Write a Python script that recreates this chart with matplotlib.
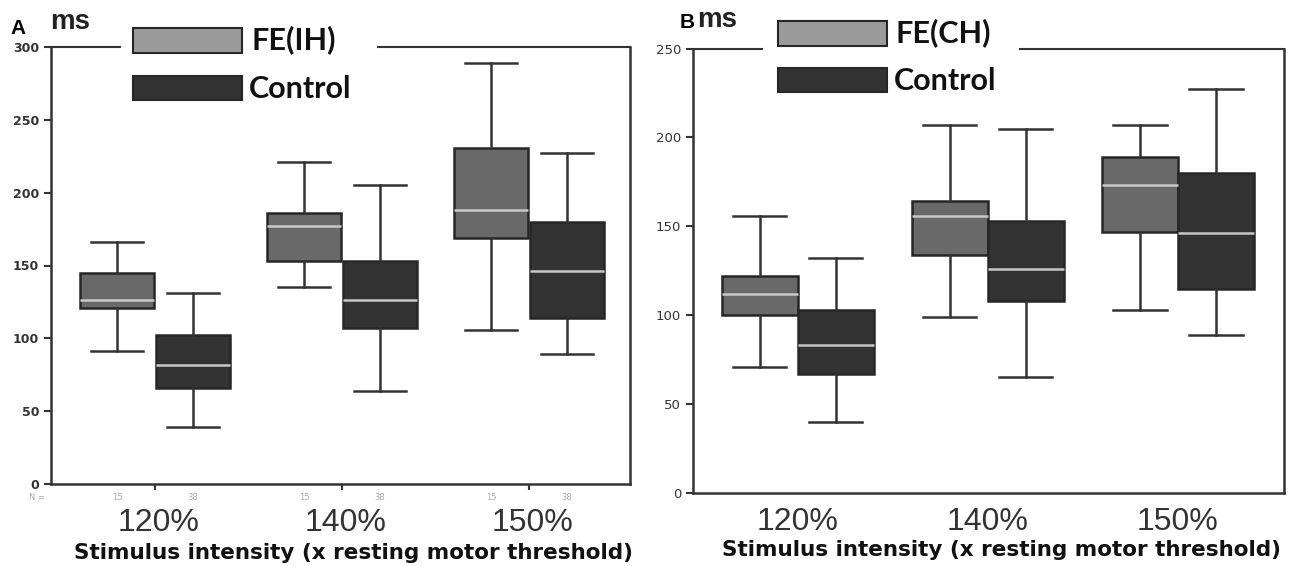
import matplotlib
matplotlib.use("Agg")
import matplotlib.pyplot as plt
from matplotlib.patches import Rectangle

# box statistics (ms): whislo, q1, med, q3, whishi
groups = ["120%", "140%", "150%"]
n_fe, n_ctrl = "15", "38"

fe_ih = [(91, 121, 126, 145, 166), (135, 153, 177, 186, 221), (106, 169, 188, 231, 289)]
ctrl_a = [(39, 66, 82, 102, 131), (64, 107, 126, 153, 205), (89, 114, 146, 180, 227)]

fe_ch = [(71, 100, 112, 122, 156), (99, 134, 156, 164, 207), (103, 147, 173, 189, 207)]
ctrl_b = [(40, 67, 83, 103, 132), (65, 108, 126, 153, 205), (89, 115, 146, 180, 227)]

W, H = 1291, 566
FE_COL, FE_LEG, CT_COL = "#696969", "#9b9b9b", "#333333"
EDGE = "#262626"


def px(x, y):
    return x / W, 1 - y / H


def stats(rows):
    return [dict(whislo=r[0], q1=r[1], med=r[2], q3=r[3], whishi=r[4], fliers=[]) for r in rows]


def draw_boxes(ax, data, pos, width, color):
    ax.bxp(stats(data), positions=pos, widths=width, patch_artist=True,
           showfliers=False, capwidths=0.28,
           boxprops=dict(facecolor=color, edgecolor=EDGE, linewidth=1.8),
           medianprops=dict(color="#c8c8c8", linewidth=1.8),
           whiskerprops=dict(color="#333333", linewidth=1.8),
           capprops=dict(color="#333333", linewidth=1.8))


def frame(ax, gap):
    for s in ["left", "bottom", "right"]:
        ax.spines[s].set_linewidth(1.8)
        ax.spines[s].set_color("#333333")
    ax.spines["top"].set_visible(False)
    # top line broken by the legend
    for a, b in gap:
        ax.plot([a, b], [1, 1], transform=ax.transAxes, color="#333333", lw=1.5, clip_on=False)


def legend(fig, x0, y_fe, y_ct, lab):
    fig.patches.append(Rectangle(px(x0, y_fe + 25), 109 / W, 25 / H, transform=fig.transFigure,
                                 facecolor=FE_LEG, edgecolor=EDGE, lw=1.5))
    fig.patches.append(Rectangle(px(x0, y_ct + 24), 109 / W, 24 / H, transform=fig.transFigure,
                                 facecolor=CT_COL, edgecolor=EDGE, lw=1.5))
    fig.text(*px(x0 + 118, y_fe + 12), lab, fontsize=22, fontweight="bold", family="Lato",
             va="center", ha="left", color="#111111")
    fig.text(*px(x0 + 116, y_ct + 13), "Control", fontsize=22, fontweight="bold", family="Lato",
             va="center", ha="left", color="#111111")


fig = plt.figure(figsize=(W / 100, H / 100), dpi=100)

# ---- panel A
axA = fig.add_axes([51 / W, (H - 484) / H, (630 - 51) / W, (484 - 47) / H])
offA, wA = 0.203, 0.4
posA = [1, 2, 3]
draw_boxes(axA, fe_ih, [p - offA for p in posA], wA, FE_COL)
draw_boxes(axA, ctrl_a, [p + offA for p in posA], wA, CT_COL)
axA.set_xlim(0.444, 3.54)
axA.set_ylim(0, 300)
axA.set_yticks(range(0, 301, 50))
axA.set_xticks(posA)
axA.set_xticklabels([])
axA.tick_params(axis="x", length=4, width=1.5, color="#333333", direction="out")
axA.tick_params(axis="y", length=5, width=1.5, color="#333333", labelsize=9, labelcolor="#333333")
for t in axA.get_yticklabels():
    t.set_fontweight("bold")
frame(axA, [(0, 69 / 579), (327 / 579, 1)])
tr = axA.get_xaxis_transform()
axA.text(0.37, -0.032, "N =", transform=tr, fontsize=6, color="#aaaaaa", ha="center", va="center")
for i, p in enumerate(posA):
    axA.text(p - offA, -0.032, n_fe, transform=tr, fontsize=6, color="#aaaaaa", ha="center", va="center")
    axA.text(p + offA, -0.032, n_ctrl, transform=tr, fontsize=6, color="#aaaaaa", ha="center", va="center")
    axA.text(p + 0.02, -0.089, groups[i], transform=tr, fontsize=23, color="#333333",
             ha="center", va="center", family="Liberation Sans")
fig.text(*px(353, 553), "Stimulus intensity (x resting motor threshold)", fontsize=15.5,
         fontweight="bold", ha="center", va="center", color="#111111")
fig.text(*px(10, 29), "A", fontsize=15, fontweight="bold", ha="left", va="center", family="Liberation Sans")
fig.text(*px(50, 22), "ms", fontsize=20, fontweight="bold", ha="left", va="center",
         family="Liberation Sans", color="#222222")
legend(fig, 133, 28, 76, "FE(IH)")

# ---- panel B
axB = fig.add_axes([693 / W, (H - 493) / H, (1284 - 693) / W, (493 - 48.5) / H])
offB, wB = 0.2, 0.4
posB = [1, 2, 3]
draw_boxes(axB, fe_ch, [p - offB for p in posB], wB, FE_COL)
draw_boxes(axB, ctrl_b, [p + offB for p in posB], wB, CT_COL)
axB.set_xlim(0.449, 3.558)
axB.set_ylim(0, 250)
axB.set_yticks(range(0, 251, 50))
axB.set_xticks([])
axB.tick_params(axis="y", length=5, width=1.5, color="#333333", labelsize=9.5, labelcolor="#333333")
frame(axB, [(0, 69 / 591), (327 / 591, 1)])
trB = axB.get_xaxis_transform()
for i, p in enumerate(posB):
    axB.text(p, -0.065, groups[i], transform=trB, fontsize=23, color="#333333",
             ha="center", va="center", family="Liberation Sans")
fig.text(*px(1001, 550), "Stimulus intensity (x resting motor threshold)", fontsize=15.5,
         fontweight="bold", ha="center", va="center", color="#111111")
fig.text(*px(680, 23), "B", fontsize=15, fontweight="bold", ha="left", va="center", family="Liberation Sans")
fig.text(*px(697, 20), "ms", fontsize=20, fontweight="bold", ha="left", va="center",
         family="Liberation Sans", color="#222222")
legend(fig, 778, 21, 68, "FE(CH)")

fig.savefig("out.png", dpi=100, facecolor="white")
